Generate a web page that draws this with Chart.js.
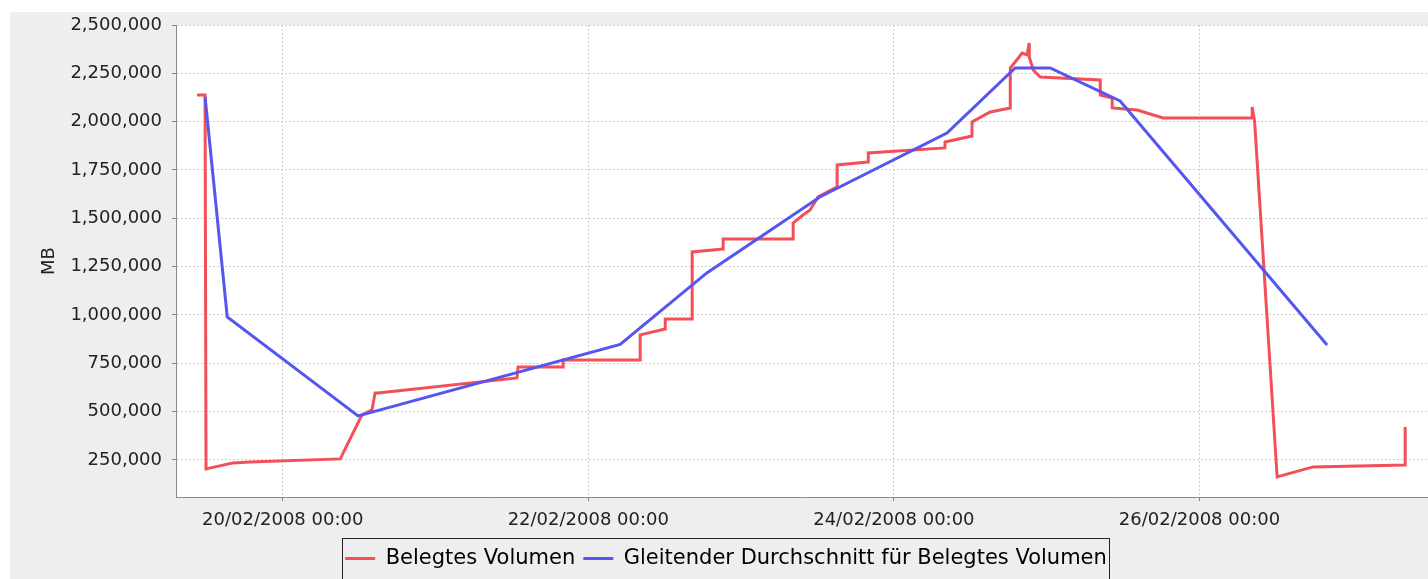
<!DOCTYPE html>
<html>
<head>
<meta charset="utf-8">
<script src="https://cdn.jsdelivr.net/npm/chart.js@4.4.1/dist/chart.umd.min.js"></script>
<style>
  html, body { margin: 0; padding: 0; background: #ffffff; }
  #wrap { width: 1428px; height: 579px; position: relative; }
</style>
</head>
<body>
<div id="wrap"><canvas id="c" width="1428" height="579"></canvas></div>
<script>
// ---- data ----
const seriesNames = ['Belegtes Volumen', 'Gleitender Durchschnitt für Belegtes Volumen'];
const yAxisTitle = 'MB';

const redTimes = [
  '19/02/2008 10:32', '19/02/2008 11:48', '19/02/2008 11:57', '19/02/2008 16:11', '19/02/2008 18:52',
  '20/02/2008 09:02', '20/02/2008 12:27', '20/02/2008 14:01', '20/02/2008 14:30', '20/02/2008 14:58',
  '21/02/2008 12:48', '21/02/2008 12:58', '21/02/2008 20:02', '21/02/2008 20:03',
  '22/02/2008 08:08', '22/02/2008 08:09', '22/02/2008 12:04', '22/02/2008 12:05', '22/02/2008 16:18',
  '22/02/2008 16:19', '22/02/2008 21:10', '22/02/2008 21:11',
  '23/02/2008 08:10', '23/02/2008 08:11', '23/02/2008 09:44', '23/02/2008 10:50', '23/02/2008 12:05',
  '23/02/2008 15:04', '23/02/2008 15:05', '23/02/2008 19:58', '23/02/2008 19:59',
  '24/02/2008 08:01', '24/02/2008 08:02', '24/02/2008 12:16', '24/02/2008 12:17', '24/02/2008 15:08',
  '24/02/2008 18:16', '24/02/2008 18:17', '24/02/2008 19:03', '24/02/2008 20:09', '24/02/2008 20:56',
  '24/02/2008 21:15', '24/02/2008 21:16', '24/02/2008 21:53', '24/02/2008 22:59',
  '25/02/2008 08:24', '25/02/2008 08:25', '25/02/2008 10:17', '25/02/2008 10:18', '25/02/2008 14:13',
  '25/02/2008 18:17',
  '26/02/2008 08:16', '26/02/2008 08:17', '26/02/2008 08:40', '26/02/2008 12:12', '26/02/2008 17:51',
  '27/02/2008 08:18', '27/02/2008 08:19'
];
const redValues = [
  2138000, 2138000, 203500, 234500, 239700,
  255200, 482800, 508600, 596600, 596600,
  674100, 731100, 731100, 767200,
  767200, 896600, 927600, 979300, 979300,
  1325900, 1341400, 1393100,
  1393100, 1475900, 1517200, 1543100, 1610300,
  1662100, 1775900, 1791400, 1837900,
  1863800, 1894800, 1925900, 1998300, 2050000,
  2070700, 2277600, 2308600, 2355100, 2344800,
  2406900, 2334500, 2267200, 2231000,
  2215500, 2137900, 2122400, 2070700, 2060300,
  2018900,
  2018900, 2075700, 2000000, 162100, 213800,
  224100, 420700
];

const blueTimes = [
  '19/02/2008 11:48', '19/02/2008 15:17', '20/02/2008 11:50', '22/02/2008 05:00',
  '22/02/2008 18:37', '23/02/2008 12:22', '24/02/2008 08:20', '24/02/2008 19:03',
  '25/02/2008 00:33', '25/02/2008 11:32', '26/02/2008 20:03'
];
const blueValues = [
  2127600, 989700, 477600, 847000,
  1217200, 1610300, 1941400, 2277600,
  2277600, 2106900, 844800
];

const xTickTimes = ['20/02/2008 00:00', '22/02/2008 00:00', '24/02/2008 00:00', '26/02/2008 00:00'];
const yTickValues = [250000, 500000, 750000, 1000000, 1250000, 1500000, 1750000, 2000000, 2250000, 2500000];
const xRange = ['19/02/2008 07:14', '27/02/2008 11:54'];
const yRange = [58000, 2500000];

// ---- helpers ----
function parseT(s) {
  const m = s.match(/(\d+)\/(\d+)\/(\d+) (\d+):(\d+)/);
  return Date.UTC(+m[3], +m[2] - 1, +m[1], +m[4], +m[5]);
}
function fmtT(ms) {
  const d = new Date(ms);
  const p = n => String(n).padStart(2, '0');
  return p(d.getUTCDate()) + '/' + p(d.getUTCMonth() + 1) + '/' + d.getUTCFullYear() + ' ' +
         p(d.getUTCHours()) + ':' + p(d.getUTCMinutes());
}
const redData = redTimes.map((t, i) => ({ x: parseT(t), y: redValues[i] }));
const blueData = blueTimes.map((t, i) => ({ x: parseT(t), y: blueValues[i] }));

const bgPlugin = {
  id: 'bg',
  beforeDraw(chart) {
    const { ctx, width, height, chartArea } = chart;
    ctx.save();
    ctx.fillStyle = '#ffffff';
    ctx.fillRect(0, 0, width, height);
    ctx.fillStyle = '#eeeeee';
    ctx.fillRect(10, 12, width - 10, height - 12);
    ctx.fillStyle = '#ffffff';
    ctx.fillRect(chartArea.left, chartArea.top, chartArea.right - chartArea.left, chartArea.bottom - chartArea.top);
    ctx.restore();
  },
  afterDraw(chart) {
    const lg = chart.legend;
    if (!lg || !lg.legendHitBoxes || !lg.legendHitBoxes.length) return;
    const hb = lg.legendHitBoxes;
    const first = hb[0], last = hb[hb.length - 1];
    const l = Math.round(first.left - 3) + 0.5;
    const r = Math.round(last.left + last.width + 2) + 0.5;
    const t = Math.round(lg.top - 2) + 0.5;
    const ctx = chart.ctx;
    ctx.save();
    ctx.strokeStyle = '#222';
    ctx.lineWidth = 1;
    ctx.strokeRect(l, t, r - l, 80);
    ctx.restore();
  }
};

const tickFont = { family: '"DejaVu Sans", sans-serif', size: 18 };

new Chart(document.getElementById('c'), {
  type: 'line',
  data: {
    datasets: [
      { label: seriesNames[0], data: redData, borderColor: '#f34f58', backgroundColor: '#f34f58',
        borderWidth: 3, pointRadius: 0, tension: 0, order: 1 },
      { label: seriesNames[1], data: blueData, borderColor: '#5555f0', backgroundColor: '#5555f0',
        borderWidth: 3, pointRadius: 0, tension: 0, order: 0 }
    ]
  },
  options: {
    responsive: false,
    animation: false,
    layout: { padding: { left: 24, top: 25, right: 0, bottom: 0 } },
    plugins: {
      tooltip: { enabled: false },
      legend: {
        position: 'bottom',
        reverse: true,
        labels: {
          color: '#000',
          font: { family: '"DejaVu Sans", sans-serif', size: 21 },
          boxWidth: 30,
          boxHeight: 3,
          padding: 8,
          generateLabels(chart) {
            const items = Chart.defaults.plugins.legend.labels.generateLabels(chart);
            items.forEach(it => { it.lineWidth = 0; it.strokeStyle = it.fillStyle; });
            return items;
          }
        }
      }
    },
    scales: {
      x: {
        type: 'linear',
        min: parseT(xRange[0]),
        max: parseT(xRange[1]),
        afterBuildTicks(scale) { scale.ticks = xTickTimes.map(t => ({ value: parseT(t) })); },
        afterFit(scale) { scale.height = 43; },
        ticks: {
          autoSkip: false, maxRotation: 0, padding: 9, color: '#222', font: tickFont,
          callback: v => fmtT(v)
        },
        grid: { color: '#d0d0d0', tickColor: '#888', tickLength: 4, tickBorderDash: [] },
        border: { color: '#8a8a8a', width: 1, dash: [2, 2] }
      },
      y: {
        type: 'linear',
        min: yRange[0],
        max: yRange[1],
        afterBuildTicks(scale) { scale.ticks = yTickValues.map(v => ({ value: v })); },
        afterFit(scale) { scale.width = 152; },
        title: { display: true, text: yAxisTitle, color: '#222', font: tickFont, padding: { top: 15, bottom: 0 } },
        ticks: {
          padding: 10, color: '#222', font: tickFont,
          callback: v => Number(v).toLocaleString('en-US')
        },
        grid: { color: '#d0d0d0', tickColor: '#888', tickLength: 4, tickBorderDash: [] },
        border: { color: '#8a8a8a', width: 1, dash: [2, 2] }
      }
    }
  },
  plugins: [bgPlugin]
});
</script>
</body>
</html>
